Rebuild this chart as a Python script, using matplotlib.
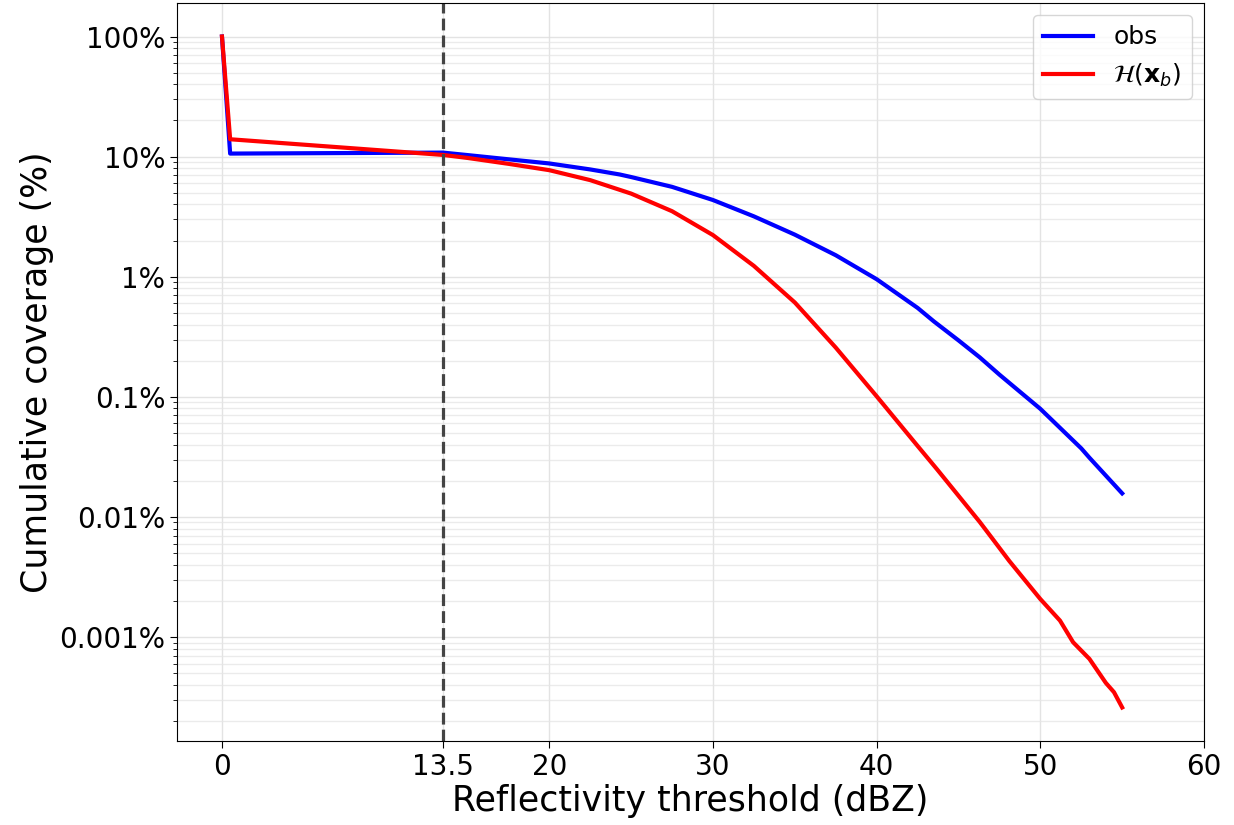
import numpy as np
import matplotlib
matplotlib.use('Agg')
import matplotlib.pyplot as plt
from matplotlib.ticker import FuncFormatter, LogLocator

# reflectivity thresholds (dBZ) and cumulative coverage (%)
obs_dbz = [0, 0.5, 13.5, 15, 17.5, 20, 22.5, 24.3, 25, 27.5, 30, 32.5, 35,
           37.5, 40, 42.5, 43.5, 45, 46.3, 47.5, 50, 52.5, 53, 55]
obs_cov = [100, 10.6, 10.8, 10.3, 9.5, 8.77, 7.82, 7.10, 6.76, 5.6, 4.35,
           3.18, 2.24, 1.51, 0.953, 0.55, 0.424, 0.295, 0.213, 0.153,
           0.0794, 0.0372, 0.0311, 0.0157]

hxb_dbz = [0, 0.5, 13.5, 15, 17.5, 20, 22.5, 25, 27.5, 30, 32.5, 35, 37.5,
           40, 42.5, 43.7, 45, 46.3, 47, 48.1, 49, 50, 51.2, 52, 53, 54,
           54.5, 55]
hxb_cov = [100, 13.95, 10.33, 9.75, 8.71, 7.71, 6.37, 4.92, 3.51, 2.22,
           1.23, 0.61, 0.257, 0.101, 0.039, 0.0248, 0.0150, 0.00907,
           0.00679, 0.0043, 0.00304, 0.00207, 0.00137, 0.000905, 0.000657,
           0.000415, 0.000347, 0.000259]

x_ticks = [0, 13.5, 20, 30, 40, 50, 60]
cutoff = 13.5

fig = plt.figure(figsize=(12.34, 8.25), dpi=100)
ax = fig.add_axes([0.1434, 0.1018, 0.8323, 0.8946])

ax.plot(obs_dbz, obs_cov, color='blue', lw=3, label='obs')
ax.plot(hxb_dbz, hxb_cov, color='red', lw=3, label=r'$\mathcal{H}(\mathbf{x}_b)$')
ax.axvline(cutoff, color='#444444', ls='--', lw=2.3)

ax.set_yscale('log')
ax.yaxis.set_major_locator(LogLocator(base=10, numticks=15))
ax.yaxis.set_minor_locator(LogLocator(base=10, subs=np.arange(2, 10), numticks=15))
ax.yaxis.set_major_formatter(FuncFormatter(lambda v, p: '%g%%' % v))
ax.set_xticks(x_ticks)
ax.set_xticklabels(['0', '13.5', '20', '30', '40', '50', '60'])
ax.set_xlim(-2.75, 60)

ax.grid(True, which='major', color='#dddddd', lw=1.0, alpha=0.8)
ax.grid(True, which='minor', axis='y', color='#e6e6e6', lw=1.0, alpha=0.8)
ax.set_axisbelow(True)

ax.tick_params(axis='both', which='major', labelsize=20, length=5)
ax.tick_params(axis='y', which='minor', length=3)
ax.set_xlabel('Reflectivity threshold (dBZ)', fontsize=25, labelpad=2)
ax.set_ylabel('Cumulative coverage (%)', fontsize=25)
ax.legend(loc='upper right', fontsize=18)

fig.savefig('out.png', dpi=100)
